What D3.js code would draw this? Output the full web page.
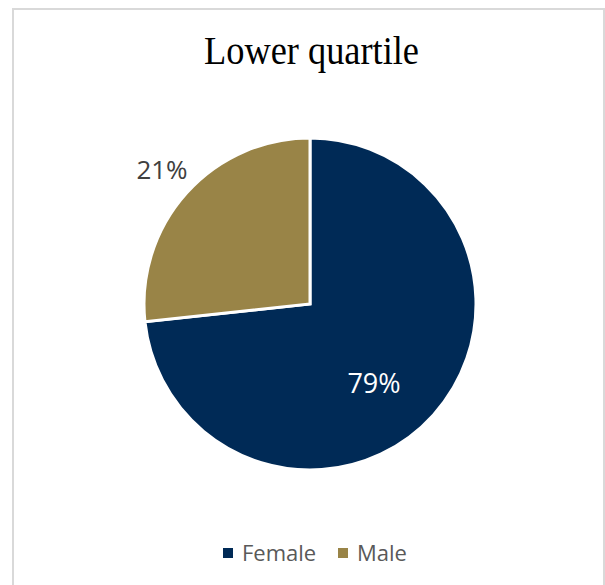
<!DOCTYPE html>
<html>
<head>
<meta charset="utf-8">
<script src="https://cdn.jsdelivr.net/npm/d3@7"></script>
<style>
  html, body { margin: 0; padding: 0; background: #ffffff; }
  svg { display: block; }
</style>
</head>
<body>
<svg id="chart" width="605" height="585"></svg>
<script>
// Data
const categories = ["Female", "Male"];
const sliceValues = [73.3, 26.7];          // slice sizes as drawn
const sliceLabels = ["79%", "21%"];        // labels as printed
const colors = ["#002A56", "#998447"];
const labelColors = ["#ffffff", "#404040"];
const titleText = "Lower quartile";

const svg = d3.select("#chart");

// frame
svg.append("rect")
  .attr("x", 13).attr("y", 9)
  .attr("width", 591).attr("height", 600)
  .attr("fill", "#ffffff")
  .attr("stroke", "#d9d9d9")
  .attr("stroke-width", 2);

// title
svg.append("text")
  .attr("x", 204).attr("y", 64)
  .attr("textLength", 215)
  .attr("lengthAdjust", "spacingAndGlyphs")
  .attr("font-family", "'Liberation Serif', 'DejaVu Serif', serif")
  .attr("font-size", 40)
  .attr("fill", "#000000")
  .text(titleText);

const cx = 310, cy = 304, r = 166;
const g = svg.append("g").attr("transform", `translate(${cx},${cy})`);

const pie = d3.pie().sort(null).value(d => d.value);
const data = categories.map((c, i) => ({ cat: c, value: sliceValues[i], label: sliceLabels[i], i }));
const arcs = pie(data);
const arc = d3.arc().innerRadius(0).outerRadius(r);

g.selectAll("path.slice")
  .data(arcs)
  .enter().append("path")
  .attr("class", "slice")
  .attr("d", arc)
  .attr("fill", d => colors[d.data.i])
  .attr("stroke", "#ffffff")
  .attr("stroke-width", 3)
  .attr("stroke-linejoin", "miter");

// labels
const labelPos = [[374 - cx, 393 - cy], [162 - cx, 179 - cy]];
const labelSizes = [27, 26];
g.selectAll("text.lbl")
  .data(arcs)
  .enter().append("text")
  .attr("class", "lbl")
  .attr("x", d => labelPos[d.data.i][0])
  .attr("y", d => labelPos[d.data.i][1])
  .attr("text-anchor", "middle")
  .attr("font-family", "'Open Sans', 'Noto Sans', sans-serif")
  .attr("font-size", d => labelSizes[d.data.i])
  .attr("fill", d => labelColors[d.data.i])
  .text(d => d.data.label);

// legend
const legendX = [223, 338];
const lg = svg.append("g");
categories.forEach((c, i) => {
  lg.append("rect")
    .attr("x", legendX[i]).attr("y", 548)
    .attr("width", 10).attr("height", 10)
    .attr("fill", colors[i]);
  lg.append("text")
    .attr("x", legendX[i] + 19).attr("y", 561)
    .attr("font-family", "'Open Sans', 'Noto Sans', sans-serif")
    .attr("font-size", 22)
    .attr("fill", "#595959")
    .text(c);
});
</script>
</body>
</html>
